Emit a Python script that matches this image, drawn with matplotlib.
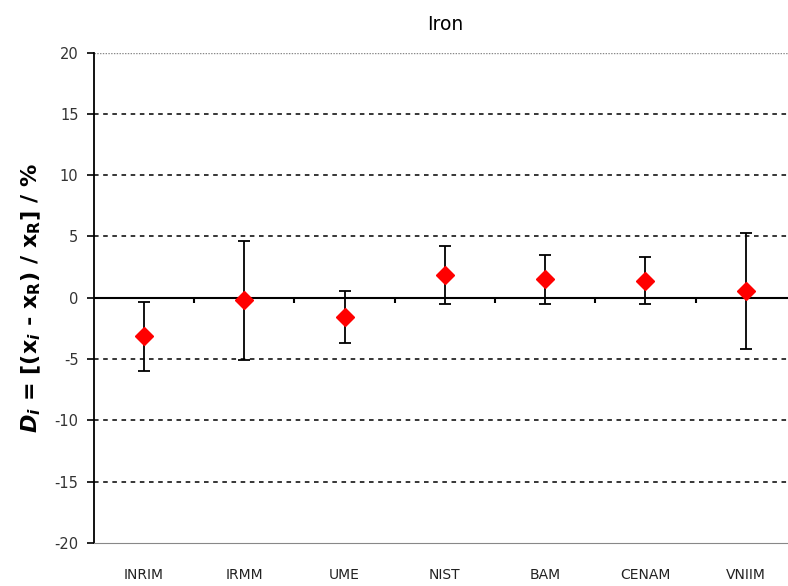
import matplotlib.pyplot as plt
import numpy as np

plt.rcParams['axes.unicode_minus'] = False

# Data
labs = ['INRIM', 'IRMM', 'UME', 'NIST', 'BAM', 'CENAM', 'VNIIM']
di = [-3.15, -0.22, -1.56, 1.85, 1.50, 1.39, 0.54]
unc = [2.83, 4.87, 2.09, 2.33, 2.00, 1.93, 4.70]
yticks = [-20, -15, -10, -5, 0, 5, 10, 15, 20]

fig = plt.figure(figsize=(7.88, 5.86), dpi=100)
ax = fig.add_axes([0.119, 0.0734, 0.891, 0.837])

x = np.arange(len(labs))
ax.set_xlim(-0.5, len(labs) - 0.5)
ax.set_ylim(-20, 20)

# dashed gridlines
for yv in [-15, -10, -5, 5, 10, 15]:
    ax.axhline(yv, color='black', lw=1.1, ls=(0, (3, 3)), zorder=1)
ax.axhline(20, color='#888888', lw=1, ls=(0, (1, 1)), zorder=1)

# zero line with category separator ticks
ax.axhline(0, color='black', lw=1.5, zorder=2)
ax.vlines(np.arange(0.5, len(labs) - 0.5), -0.45, 0, color='black', lw=1.5, zorder=2)

ax.errorbar(x, di, yerr=unc, fmt='none', ecolor='black', elinewidth=1.3,
            capsize=4, capthick=1.3, zorder=3)
ax.plot(x, di, 'D', color='red', ms=9, mec='red', zorder=4)

ax.set_xticks(x)
ax.set_xticklabels(labs, fontsize=10, color='#222222')
ax.tick_params(axis='x', length=0, pad=18)
ax.set_yticks(yticks)
ax.tick_params(axis='y', direction='out', length=5, width=1.2, labelsize=10.5,
               labelcolor='#333333', pad=6)

ax.spines['right'].set_visible(False)
ax.spines['top'].set_visible(False)
ax.spines['bottom'].set_color('#888888')
ax.spines['bottom'].set_linestyle((0, (1, 1)))
ax.spines['left'].set_linewidth(1.3)

ax.set_title('Iron', fontsize=13.5, pad=16)
ax.set_ylabel(r'$\mathbfit{D_i}$ = [($\mathbf{x}_{\mathbfit{i}}$ - $\mathbf{x}_\mathbf{R}$) / $\mathbf{x}_\mathbf{R}$] / %',
              fontsize=16, fontweight='bold', labelpad=8)

plt.savefig('out.png', dpi=100)
